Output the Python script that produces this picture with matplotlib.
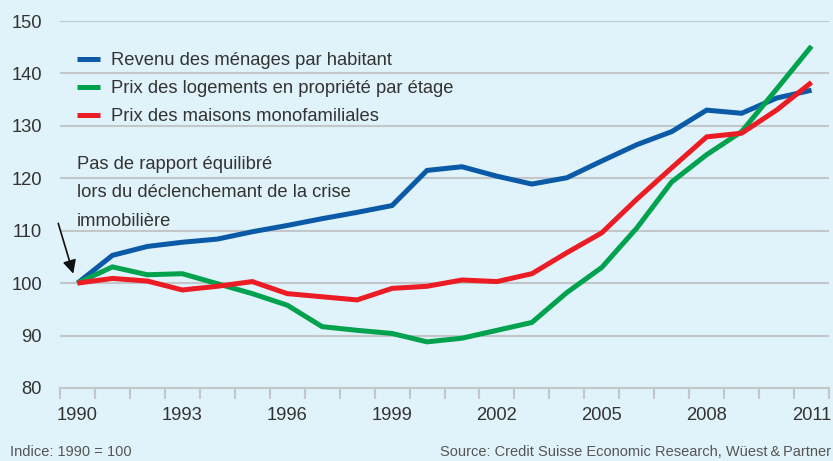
import matplotlib
matplotlib.use("Agg")
import matplotlib.pyplot as plt
from matplotlib.ticker import FixedLocator

plt.rcParams['font.family'] = ['Liberation Sans', 'DejaVu Sans']

# data (index 1990 = 100)
years = list(range(1990, 2012))
revenu = [100, 105.3, 107.0, 107.8, 108.4, 109.8, 111.0, 112.3, 113.5, 114.8,
          121.5, 122.2, 120.4, 118.9, 120.1, 123.3, 126.4, 128.9, 133.0, 132.4,
          135.3, 136.8]
logements = [100, 103.1, 101.6, 101.8, 99.9, 98.0, 95.8, 91.7, 91.0, 90.4,
             88.8, 89.5, 91.0, 92.5, 98.2, 103.0, 110.5, 119.3, 124.5, 128.9,
             137.0, 145.2]
maisons = [100, 100.9, 100.4, 98.7, 99.4, 100.3, 98.0, 97.4, 96.8, 99.0,
           99.4, 100.6, 100.3, 101.8, 105.8, 109.6, 116.0, 122.0, 127.9, 128.6,
           133.0, 138.3]
labels = ["Revenu des ménages par habitant",
          "Prix des logements en propriété par étage",
          "Prix des maisons monofamiliales"]
yticks = [80, 90, 100, 110, 120, 130, 140, 150]
xlabel_years = [1990, 1993, 1996, 1999, 2002, 2005, 2008, 2011]

bg = '#e0f2fa'
grid = '#c4c7ca'
txt = '#333333'
colors = ['#0a5aa8', '#00a24e', '#ec1c24']
fs = 13.2

fig = plt.figure(figsize=(8.33, 4.61), dpi=100, facecolor=bg)
ax = fig.add_axes([60/833, 1 - 388/461, 769/833, 367/461], facecolor=bg)

x = list(range(len(years)))
for vals, lab, c in zip([revenu, logements, maisons], labels, colors):
    ax.plot(x, vals, color=c, lw=3.6, label=lab, solid_joinstyle='miter',
            solid_capstyle='butt')

ax.set_xlim(-0.5, len(years) - 0.5)
ax.set_ylim(80, 150)

for s in ['top', 'right', 'left']:
    ax.spines[s].set_visible(False)
ax.spines['bottom'].set_color(grid)
ax.spines['bottom'].set_linewidth(1.5)

ax.set_yticks(yticks)
ax.set_yticklabels([str(v) for v in yticks])
ax.tick_params(axis='y', length=0, pad=13, labelsize=fs, labelcolor=txt)
ax.yaxis.grid(True, color=grid, lw=1.5)
ax.set_axisbelow(True)

ax.set_xticks([years.index(y) for y in xlabel_years])
ax.set_xticklabels([str(y) for y in xlabel_years])
ax.xaxis.set_minor_locator(FixedLocator([i - 0.5 for i in range(len(years) + 1)]))
ax.tick_params(axis='x', which='major', length=0, pad=14, labelsize=fs, labelcolor=txt)
ax.tick_params(axis='x', which='minor', length=8, width=1.5, color=grid)

leg = ax.legend(loc='upper left', bbox_to_anchor=(0.0, 0.96), frameon=False,
                fontsize=fs, handlelength=1.3, handletextpad=0.6, labelspacing=0.6)
for t in leg.get_texts():
    t.set_color(txt)

ax.text(-0.5 + 17/34.95, 124.3, "Pas de rapport équilibré\nlors du déclenchemant de la crise\nimmobilière",
        fontsize=fs, color=txt, va='top', ha='left', linespacing=1.9)
ax.annotate("", xy=(-0.12, 101.8), xytext=(-0.55, 111.4),
            arrowprops=dict(arrowstyle='-|>', color='#111111', lw=1.2,
                            mutation_scale=20, shrinkA=0, shrinkB=0),
            annotation_clip=False)

fig.text(10/833, 2/461, "Indice: 1990 = 100", fontsize=10.5, color='#555555',
         ha='left', va='bottom')
fig.text(831/833, 2/461, "Source: Credit Suisse Economic Research, Wüest\u2009&\u2009Partner",
         fontsize=10.5, color='#555555', ha='right', va='bottom')

fig.savefig('out.png', dpi=100, facecolor=bg)
